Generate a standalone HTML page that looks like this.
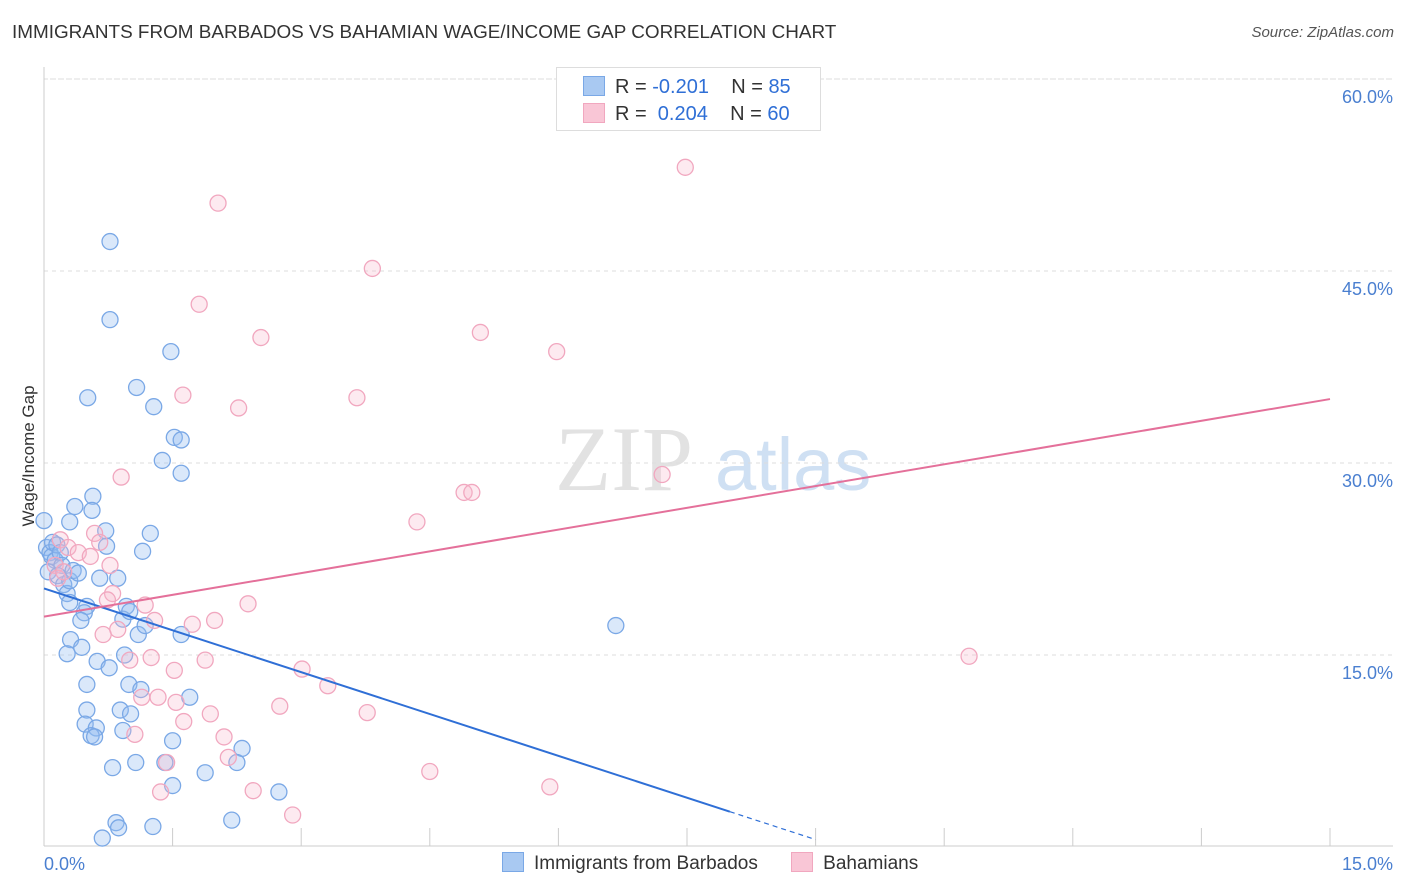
<!DOCTYPE html>
<html><head><meta charset="utf-8"><style>
body{margin:0;background:#fff;font-family:"Liberation Sans",sans-serif;}
#wrap{position:relative;width:1406px;height:892px;overflow:hidden;}
.t{position:absolute;white-space:nowrap;}
</style></head><body>
<div id="wrap">
<div class="t" style="left:12px;top:22px;font-size:18.9px;color:#333;">IMMIGRANTS FROM BARBADOS VS BAHAMIAN WAGE/INCOME GAP CORRELATION CHART</div>
<div class="t" style="right:12px;top:24px;font-size:15px;color:#555;font-style:italic;">Source: ZipAtlas.com</div>
<svg id="svg" width="1406" height="892" style="position:absolute;left:0;top:0"></svg>
</div>
<script>
const yTicks=[15,30,45,60];
const yTickLabels=["15.0%","30.0%","45.0%","60.0%"];
const xTickVals=[0,1.5,3,4.5,6,7.5,9,10.5,12,13.5,15];
const blueX=[0,0.03,0.07,0.09,0.13,0.05,0.1,0.15,0.19,0.21,0.16,0.23,0.27,0.3,0.34,0.4,0.3,0.36,0.57,0.56,0.51,0.77,0.77,1.08,1.48,1.28,1.52,1.6,1.38,1.6,0.72,0.73,1.24,1.15,0.65,0.86,0.3,0.5,0.47,0.43,0.96,0.92,1.1,1.18,1.6,0.31,0.44,0.27,0.62,0.76,0.94,0.5,0.99,1.13,1.7,0.5,0.89,1.01,0.48,0.61,0.92,0.55,0.59,1.5,2.31,2.25,1.07,1.41,0.8,1.88,1.5,2.74,2.19,1.27,0.84,0.87,0.68,6.67,1.0];
const blueY=[25.5,23.4,23.0,22.7,22.4,21.5,23.8,23.6,23.0,22.0,21.2,20.5,19.8,20.8,21.6,21.4,25.4,26.6,27.4,26.3,35.1,47.3,41.2,35.9,38.7,34.4,32.0,31.8,30.2,29.2,24.7,23.5,24.5,23.1,21.0,21.0,19.1,18.8,18.3,17.7,18.8,17.8,16.6,17.3,16.6,16.2,15.6,15.1,14.5,14.0,15.0,12.7,12.7,12.3,11.7,10.7,10.7,10.4,9.6,9.3,9.1,8.7,8.6,8.3,7.7,6.6,6.6,6.6,6.2,5.8,4.8,4.3,2.1,1.6,1.9,1.5,0.7,17.3,18.4];
const pinkX=[7.48,2.03,3.83,1.81,5.09,2.53,5.98,1.62,3.65,2.27,0.9,7.21,4.9,4.99,4.35,10.79,0.19,0.28,0.4,0.54,0.59,0.65,0.13,0.16,0.8,0.74,1.18,2.38,1.29,1.99,1.73,0.86,0.69,1.0,1.25,1.88,1.52,3.01,3.31,1.33,1.54,1.14,2.75,1.94,1.63,3.77,2.1,1.06,2.15,1.43,4.5,5.9,1.36,2.44,2.9,0.23,0.77];
const pinkY=[53.1,50.3,45.2,42.4,40.2,39.8,38.7,35.3,35.1,34.3,28.9,29.1,27.7,27.7,25.4,14.9,24.0,23.4,23.0,22.7,24.5,23.8,22.0,21.0,19.8,19.3,18.9,19.0,17.7,17.7,17.4,17.0,16.6,14.6,14.8,14.6,13.8,13.9,12.6,11.7,11.3,11.7,11.0,10.4,9.8,10.5,8.6,8.8,7.0,6.6,5.9,4.7,4.3,4.4,2.5,21.5,22.0];
const blueTrend=[20.2,-2.18];
const pinkTrend=[18.0,1.133];

const X0=44,X1=1330,Y0=847,Y60=79;
const sx=v=>X0+(X1-X0)*v/15;
const sy=v=>Y0-(Y0-Y60)*v/60;
const svg=document.getElementById('svg');
const NS='http://www.w3.org/2000/svg';
function mk(tag,attrs,name){const e=document.createElementNS(NS,tag);for(const k in attrs)e.setAttribute(k,attrs[k]);


svg.appendChild(e);return e;}
let wm=mk('text',{x:555,y:490,'font-size':92,fill:'#e2e2e2','font-family':'Liberation Serif, serif'},'watermark-zip');wm.textContent='ZIP';
let wm2=mk('text',{x:715,y:490,'font-size':74,fill:'#cfe0f3','font-family':'Liberation Sans, sans-serif'},'watermark-atlas');wm2.textContent='atlas';
mk('line',{x1:50,x2:1393,y1:79,y2:79,stroke:'#ddd','stroke-dasharray':'4,4'},'gridline-top');
yTicks.forEach((v,i)=>{
 mk('line',{x1:44,x2:1393,y1:sy(v),y2:sy(v),stroke:'#ddd','stroke-dasharray':'4,4'},'gridline-y');
 const t=mk('text',{x:1393,y:sy(v)+24,'text-anchor':'end','font-size':18,fill:'#4a7fd0'},'y-tick-label');t.textContent=yTickLabels[i];
});
mk('line',{x1:44,x2:44,y1:67,y2:846,stroke:'#ccc'},'y-axis-line');
mk('line',{x1:44,x2:1393,y1:846,y2:846,stroke:'#ccc'},'x-axis-line');
xTickVals.forEach(v=>mk('line',{x1:sx(v),x2:sx(v),y1:828,y2:846,stroke:'#ccc'},'x-tick'));
let xl=mk('text',{x:44,y:870,'font-size':18,fill:'#4a7fd0'},'x-tick-label-min');xl.textContent='0.0%';
let xr=mk('text',{x:1393,y:870,'text-anchor':'end','font-size':18,fill:'#4a7fd0'},'x-tick-label-max');xr.textContent='15.0%';
let yt=mk('text',{x:34,y:456,'font-size':17,fill:'#333','text-anchor':'middle',transform:'rotate(-90 34 456)'},'y-axis-title');yt.textContent='Wage/Income Gap';
blueX.forEach((v,i)=>mk('circle',{cx:sx(v),cy:sy(blueY[i]),r:8,fill:'rgba(150,190,240,0.35)',stroke:'#7aa8e6','stroke-width':1.3},'blue-point'));
pinkX.forEach((v,i)=>mk('circle',{cx:sx(v),cy:sy(pinkY[i]),r:8,fill:'rgba(248,185,205,0.3)',stroke:'#f1a7bf','stroke-width':1.3},'pink-point'));
const bEnd=8.0,bDash=9.0;
mk('line',{x1:sx(0),y1:sy(blueTrend[0]),x2:sx(bEnd),y2:sy(blueTrend[0]+blueTrend[1]*bEnd),stroke:'#2f6fd6','stroke-width':2},'blue-trend-line');
mk('line',{x1:sx(bEnd),y1:sy(blueTrend[0]+blueTrend[1]*bEnd),x2:sx(bDash),y2:sy(blueTrend[0]+blueTrend[1]*bDash),stroke:'#2f6fd6','stroke-width':1.2,'stroke-dasharray':'5,4'},'blue-trend-extension');
mk('line',{x1:sx(0),y1:sy(pinkTrend[0]),x2:sx(15),y2:sy(pinkTrend[0]+pinkTrend[1]*15),stroke:'#e4709a','stroke-width':2},'pink-trend-line');
</script>
<div style="position:absolute;left:556px;top:67px;width:263px;height:62px;border:1px solid #ddd;background:#fff;font-size:20px;">
 <div style="position:absolute;left:26px;top:8px;white-space:nowrap;color:#333;"><span style="display:inline-block;width:20px;height:18px;background:#a9c9f2;border:1px solid #7aa8e6;vertical-align:-3px;margin-right:10px"></span>R = <span style="color:#2f6fd6">-0.201</span>&nbsp;&nbsp;&nbsp; N = <span style="color:#2f6fd6">85</span></div>
 <div style="position:absolute;left:26px;top:35px;white-space:nowrap;color:#333;"><span style="display:inline-block;width:20px;height:18px;background:#f9c6d6;border:1px solid #f1a7bf;vertical-align:-3px;margin-right:10px"></span>R = &nbsp;<span style="color:#2f6fd6">0.204</span>&nbsp;&nbsp;&nbsp; N = <span style="color:#2f6fd6">60</span></div>
</div>
<div style="position:absolute;left:502px;top:852px;font-size:19px;color:#333;white-space:nowrap;">
 <span><span style="display:inline-block;width:20px;height:18px;background:#a9c9f2;border:1px solid #7aa8e6;vertical-align:-3px;margin-right:10px"></span>Immigrants from Barbados</span>
 <span style="margin-left:28px"><span style="display:inline-block;width:20px;height:18px;background:#f9c6d6;border:1px solid #f1a7bf;vertical-align:-3px;margin-right:10px"></span>Bahamians</span>
</div>
</body></html>
